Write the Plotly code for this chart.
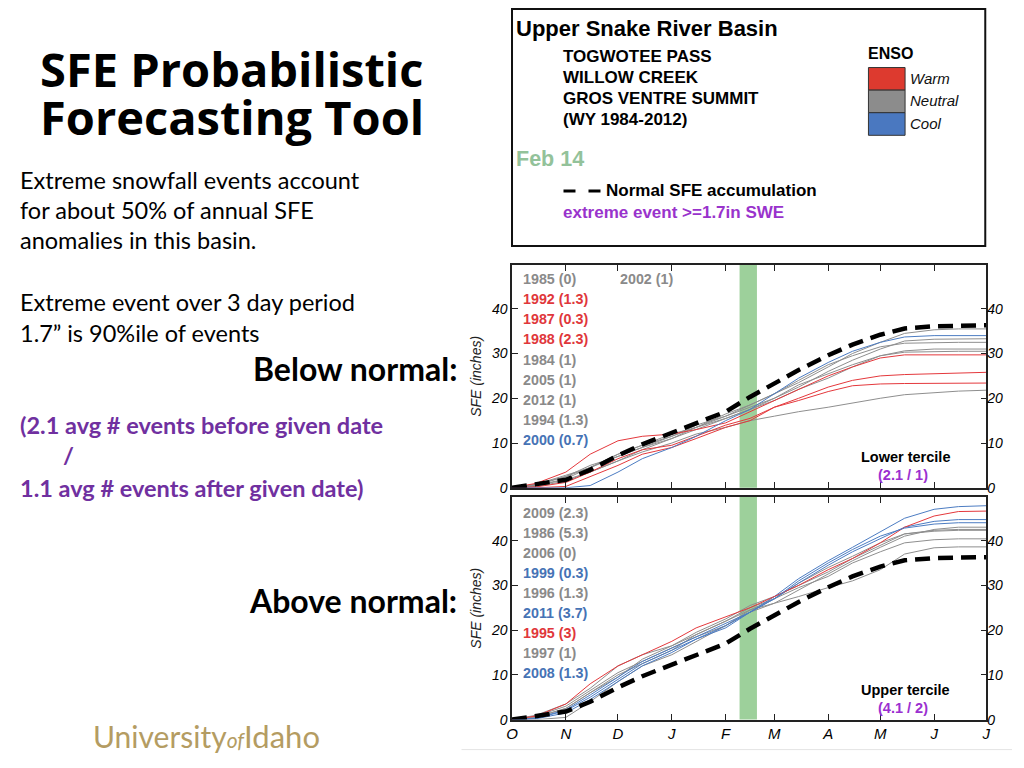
import plotly.graph_objects as go

# The page body has an 8px margin on every side; the figure fits inside it exactly.
# The photographed page comes out about 1% shorter vertically, so y positions are
# stretched by SY to land where the reference has them.
OFF = 8
W, H = 1024 - 2 * OFF, 768 - 2 * OFF
SY = 0.99


def px(x):
    return (x - OFF) / W


def py(y):
    return 1 - (y / SY - OFF) / H


# ---------------- data ----------------
SAMPLE_DATES = ["2000-10-01", "2000-10-15", "2000-11-01", "2000-11-15", "2000-12-01",
                "2000-12-15", "2001-01-01", "2001-01-15", "2001-02-01", "2001-02-15",
                "2001-03-01", "2001-03-15", "2001-04-01", "2001-04-15", "2001-05-01",
                "2001-05-15", "2001-06-01", "2001-06-15", "2001-07-01"]
MONTH_STARTS = ["2000-10-01", "2000-11-01", "2000-12-01", "2001-01-01", "2001-02-01",
                "2001-03-01", "2001-04-01", "2001-05-01", "2001-06-01", "2001-07-01"]
MONTH_LABELS = ["O", "N", "D", "J", "F", "M", "A", "M", "J", "J"]
Y_TICKS = [0, 10, 20, 30, 40]
Y_MAX = 49.8
WINDOW_START = "2001-02-09"
WINDOW_END = "2001-02-19"

NORMAL_SFE = [0, 0.7, 1.8, 4.0, 7.2, 9.7, 12.2, 14.5, 17.0, 20.3, 23.3, 26.3, 29.6,
              32.0, 34.2, 35.6, 36.1, 36.3, 36.3]

# Lower tercile years
SFE_1985 = [0, 0.5, 2.0, 4.5, 7.5, 9.5, 11.5, 13.5, 16.0, 18.5, 21.0, 23.5, 27.0, 30.0, 32.5, 34.5, 35.3, 35.5, 35.5]
SFE_1992 = [0, 1.0, 3.5, 7.5, 10.5, 11.5, 12.0, 13.0, 14.5, 17.0, 19.5, 22.0, 25.0, 27.0, 29.0, 29.7, 29.7, 29.7, 29.7]
SFE_1987 = [0, 0.2, 1.2, 3.5, 6.5, 8.5, 9.5, 11.5, 14.0, 15.5, 18.0, 20.0, 22.5, 24.0, 25.0, 25.3, 25.5, 25.6, 25.8]
SFE_1988 = [0, 0.0, 0.3, 2.5, 5.0, 7.5, 9.0, 11.0, 13.5, 15.0, 18.0, 19.5, 21.5, 22.8, 23.2, 23.3, 23.3, 23.3, 23.4]
SFE_1984 = [0, 0.6, 2.5, 4.5, 7.5, 9.5, 12.0, 13.5, 16.5, 18.5, 21.0, 24.0, 27.5, 29.5, 31.5, 32.3, 32.5, 32.5, 32.5]
SFE_2005 = [0, 0.8, 2.8, 4.5, 7.0, 9.0, 11.5, 14.0, 16.0, 18.0, 20.0, 23.0, 25.5, 27.5, 29.5, 30.6, 31.0, 31.0, 31.0]
SFE_2012 = [0, 0.5, 1.8, 3.5, 6.0, 8.5, 11.0, 13.5, 15.5, 17.5, 19.5, 22.0, 24.5, 27.0, 29.5, 30.3, 30.5, 30.5, 30.5]
SFE_1994 = [0, 0.3, 1.5, 3.5, 6.0, 8.0, 10.0, 12.0, 13.5, 15.0, 16.0, 17.0, 18.0, 19.0, 20.0, 20.8, 21.3, 21.6, 21.8]
SFE_2000 = [0, 0.0, 0.0, 0.5, 3.5, 6.5, 9.0, 11.5, 15.0, 17.5, 21.0, 24.5, 28.0, 30.5, 32.5, 33.7, 34.0, 34.0, 34.0]
SFE_2002 = [0, 0.8, 2.5, 5.0, 7.0, 9.0, 11.0, 13.0, 15.5, 17.5, 20.0, 22.5, 26.0, 28.5, 31.0, 32.8, 33.2, 33.3, 33.3]

LOWER_YEARS = ["1985", "1992", "1987", "1988", "1984", "2005", "2012", "1994", "2000", "2002"]
LOWER_EVENTS = ["0", "1.3", "0.3", "2.3", "1", "1", "1", "1.3", "0.7", "1"]
LOWER_ENSO = ["Neutral", "Warm", "Warm", "Warm", "Neutral", "Neutral", "Neutral", "Neutral", "Cool", "Neutral"]
LOWER_SERIES = [SFE_1985, SFE_1992, SFE_1987, SFE_1988, SFE_1984, SFE_2005, SFE_2012,
                SFE_1994, SFE_2000, SFE_2002]
LOWER_RATIO = "(2.1 / 1)"

# Upper tercile years
SFE_2009 = [0, 0.8, 3.0, 6.5, 10.5, 13.0, 16.0, 18.5, 21.0, 24.0, 26.0, 29.0, 32.5, 35.5, 38.5, 41.0, 42.5, 43.0, 43.0]
SFE_1986 = [0, 1.0, 3.5, 7.0, 12.0, 14.5, 16.5, 19.5, 22.5, 25.5, 27.5, 30.0, 33.0, 36.0, 39.0, 41.5, 42.3, 42.5, 42.5]
SFE_2006 = [0, 0.5, 2.5, 6.0, 10.0, 12.5, 15.5, 19.0, 22.0, 25.0, 27.0, 29.5, 32.0, 35.0, 37.5, 39.5, 40.2, 40.4, 40.4]
SFE_1999 = [0, 0.3, 2.0, 5.0, 9.0, 12.5, 15.5, 18.0, 21.0, 24.0, 27.0, 30.5, 34.5, 37.5, 40.5, 43.0, 44.3, 44.7, 44.7]
SFE_1996 = [0, 0.6, 2.5, 6.0, 9.5, 13.5, 16.5, 19.0, 22.0, 24.5, 26.0, 27.5, 29.5, 31.0, 33.5, 37.0, 38.4, 38.6, 38.6]
SFE_2011 = [0, 0.2, 1.5, 4.5, 8.5, 12.0, 15.0, 18.0, 20.5, 24.0, 27.5, 31.5, 35.5, 38.5, 42.0, 45.0, 47.0, 47.6, 47.8]
SFE_1995 = [0, 0.8, 3.5, 8.0, 12.0, 14.5, 17.5, 20.5, 23.0, 25.0, 27.5, 30.0, 33.5, 36.0, 39.5, 43.0, 45.5, 46.5, 46.6]
SFE_1997 = [0, 0.0, 0.5, 4.0, 8.5, 12.0, 14.5, 17.5, 21.0, 24.5, 27.0, 30.5, 34.0, 36.5, 39.5, 41.5, 42.1, 42.3, 42.3]
SFE_2008 = [0, 0.3, 2.2, 5.5, 9.5, 13.0, 16.0, 18.5, 21.5, 24.0, 27.0, 31.0, 35.0, 38.0, 41.0, 42.8, 43.7, 44.0, 44.0]

UPPER_YEARS = ["2009", "1986", "2006", "1999", "1996", "2011", "1995", "1997", "2008"]
UPPER_EVENTS = ["2.3", "5.3", "0", "0.3", "1.3", "3.7", "3", "1", "1.3"]
UPPER_ENSO = ["Neutral", "Neutral", "Neutral", "Cool", "Neutral", "Cool", "Warm", "Neutral", "Cool"]
UPPER_SERIES = [SFE_2009, SFE_1986, SFE_2006, SFE_1999, SFE_1996, SFE_2011, SFE_1995,
                SFE_1997, SFE_2008]
UPPER_RATIO = "(4.1 / 2)"

ENSO_PHASES = ["Warm", "Neutral", "Cool"]

# ---------------- style ----------------
LINE_COLORS = {"Warm": "#e4383c", "Neutral": "#8e8e8e", "Cool": "#4c7cc2"}
TEXT_COLORS = {"Warm": "#e0373b", "Neutral": "#8a8a8a", "Cool": "#4673b5"}
BOX_COLORS = {"Warm": "#dd3a2f", "Neutral": "#8c8c8c", "Cool": "#4a78c0"}
PURPLE = "#9b30d0"
SLIDE_PURPLE = "#7030a0"
GREEN = "#9dd09b"
ARIAL = "Liberation Sans, Arial, sans-serif"
BODY = "Lato, Open Sans, sans-serif"
TITLE = "Open Sans, Lato, sans-serif"

fig = go.Figure()

panels = [
    ("x2", "y2", LOWER_SERIES, LOWER_ENSO),
    ("x", "y", UPPER_SERIES, UPPER_ENSO),
]
for xa, ya, series, enso in panels:
    order = sorted(range(len(series)), key=lambda i: 0 if enso[i] == "Neutral" else 1)
    for i in order:
        fig.add_trace(go.Scatter(
            x=SAMPLE_DATES, y=series[i], xaxis=xa, yaxis=ya, mode="lines",
            line=dict(color=LINE_COLORS[enso[i]], width=1),
            hoverinfo="skip", showlegend=False))
    fig.add_trace(go.Scatter(
        x=SAMPLE_DATES, y=NORMAL_SFE, xaxis=xa, yaxis=ya, mode="lines",
        line=dict(color="black", width=4.5, dash="15px,8px"),
        hoverinfo="skip", showlegend=False))

# invisible traces so the right-hand axes get drawn
for xa, ya in [("x", "y3"), ("x2", "y4")]:
    fig.add_trace(go.Scatter(x=SAMPLE_DATES, y=NORMAL_SFE, xaxis=xa, yaxis=ya, mode="lines",
                             line=dict(width=0), opacity=0, hoverinfo="skip", showlegend=False))

XDOM = [px(511), px(990)]
TOP_DOM = [py(488), py(265)]
BOT_DOM = [py(720), py(497)]

tick_font = dict(family=ARIAL, size=14, color="black", style="italic")
common_x = dict(type="date", range=[MONTH_STARTS[0], MONTH_STARTS[-1]], tickvals=MONTH_STARTS,
                ticktext=MONTH_LABELS, ticks="inside", ticklen=6, tickcolor="#222",
                showline=True, linecolor="#222", linewidth=1.5, mirror="ticks",
                showgrid=False, zeroline=False,
                tickfont=dict(family=ARIAL, size=15, color="black", style="italic"),
                domain=XDOM)
common_y = dict(range=[0, Y_MAX], tickvals=Y_TICKS, ticks="inside", ticklen=6, tickcolor="#222",
                showline=True, linecolor="#222", linewidth=1.5, mirror="ticks",
                showgrid=False, zeroline=False, tickfont=tick_font,
                title=dict(text="SFE (inches)", font=dict(family=ARIAL, size=14, color="#222", style="italic"),
                           standoff=6))
right_y = dict(range=[0, Y_MAX], tickvals=Y_TICKS, ticks="", showline=False, showgrid=False,
               zeroline=False, side="right", tickfont=tick_font)

fig.update_layout(
    width=W, height=H, margin=dict(l=0, r=0, t=0, b=0),
    paper_bgcolor="white", plot_bgcolor="white", showlegend=False,
    xaxis=dict(common_x, anchor="y"),
    xaxis2=dict(common_x, anchor="y2", showticklabels=False, matches="x"),
    yaxis=dict(common_y, domain=BOT_DOM, anchor="x"),
    yaxis2=dict(common_y, domain=TOP_DOM, anchor="x2"),
    yaxis3=dict(right_y, overlaying="y", anchor="x"),
    yaxis4=dict(right_y, overlaying="y2", anchor="x2"),
)

shapes = []
# highlighted date window
for xa, ya in [("x", "y"), ("x2", "y2")]:
    shapes.append(dict(type="rect", xref=xa, yref=ya + " domain", x0=WINDOW_START, x1=WINDOW_END,
                       y0=0, y1=1, fillcolor=GREEN, line=dict(width=0), layer="below"))
# legend box
shapes.append(dict(type="rect", xref="paper", yref="paper", x0=px(511), x1=px(989),
                   y0=py(246), y1=py(9), line=dict(color="#111", width=2), fillcolor="rgba(0,0,0,0)"))
# ENSO swatches
for k, phase in enumerate(ENSO_PHASES):
    y0 = 67.5 + k * 22.6
    shapes.append(dict(type="rect", xref="paper", yref="paper", x0=px(871), x1=px(908),
                       y0=py(y0 + 22.6), y1=py(y0), fillcolor=BOX_COLORS[phase],
                       line=dict(color="#333", width=1)))
# normal-line legend sample
shapes.append(dict(type="line", xref="paper", yref="paper", x0=px(563), x1=px(601),
                   y0=py(191), y1=py(191), line=dict(color="black", width=3, dash="12px,13px")))
# faint slide rule
shapes.append(dict(type="line", xref="paper", yref="paper", x0=px(460), x1=1,
                   y0=py(750), y1=py(750), line=dict(color="#e4e4e4", width=1)))

ann = []


def text(x, y, s, size, color="black", family=ARIAL, anchor="left", bold=False, italic=False):
    if bold:
        s = "<b>" + s + "</b>"
    if italic:
        s = "<i>" + s + "</i>"
    ann.append(dict(x=px(x), y=py(y), xref="paper", yref="paper", text=s, showarrow=False,
                    xanchor=anchor, yanchor="middle", font=dict(family=family, size=size, color=color)))


# year labels in panels
for i, (yr, ev, en) in enumerate(zip(LOWER_YEARS, LOWER_EVENTS, LOWER_ENSO)):
    if i < 9:
        text(520, 279 + 20.2 * i, f"{yr} ({ev})", 14.3, TEXT_COLORS[en], bold=True)
    else:
        text(618, 279, f"{yr} ({ev})", 14.3, TEXT_COLORS[en], bold=True)
for i, (yr, ev, en) in enumerate(zip(UPPER_YEARS, UPPER_EVENTS, UPPER_ENSO)):
    text(520, 513 + 20.1 * i, f"{yr} ({ev})", 14.3, TEXT_COLORS[en], bold=True)

text(908, 457, "Lower tercile", 14.5, "black", anchor="center", bold=True)
text(906, 475, LOWER_RATIO, 14.5, PURPLE, anchor="center", bold=True)
text(908, 690, "Upper tercile", 14.5, "black", anchor="center", bold=True)
text(906, 708, UPPER_RATIO, 14.5, PURPLE, anchor="center", bold=True)

# legend box texts
text(513, 28, "Upper Snake River Basin", 22, bold=True)
for i, s in enumerate(["TOGWOTEE PASS", "WILLOW CREEK", "GROS VENTRE SUMMIT", "(WY 1984-2012)"]):
    text(560, 56 + 21 * i, s, 17, bold=True)
text(869, 53, "ENSO", 16, bold=True)
for k, phase in enumerate(ENSO_PHASES):
    text(911, 78 + 22.6 * k, phase, 15, "#111", italic=True)
text(513, 159, "Feb 14", 21.5, "#93c29a", bold=True)
text(604, 191, "Normal SFE accumulation", 17, bold=True)
text(560, 213, "extreme event >=1.7in SWE", 17, "#9933cc", bold=True)

# slide title: two lines, 47px glyphs with 48px line pitch (line pitch = 1.3 x base size)
ann.append(dict(x=px(32), y=py(93), xref="paper", yref="paper", showarrow=False,
                xanchor="left", yanchor="middle", align="left",
                text="<span style='font-size:47px'><b>SFE Probabilistic</b></span><br>"
                     "<span style='font-size:47px'><b>Forecasting Tool</b></span>",
                font=dict(family=TITLE, size=37, color="black")))

body = ["Extreme snowfall events account", "for about 50% of annual SFE",
        "anomalies in this basin."]
for i, s in enumerate(body):
    text(12, 180 + 30 * i, s, 23.5, "black", family=BODY)
text(12, 302, "Extreme event over 3 day period", 23.5, "black", family=BODY)
text(12, 333, "1.7\u201d is 90%ile of events", 23.5, "black", family=BODY)
text(457, 369, "Below normal:", 32, "black", family=BODY, anchor="right", bold=True)
text(457, 601, "Above normal:", 32, "black", family=BODY, anchor="right", bold=True)
text(12, 425, "(2.1 avg # events before given date", 23.5, SLIDE_PURPLE, family=BODY, bold=True)
text(55, 455, "/", 23.5, SLIDE_PURPLE, family=BODY, bold=True)
text(12, 488, "1.1 avg # events after given date)", 23.5, SLIDE_PURPLE, family=BODY, bold=True)

ann.append(dict(x=px(86), y=py(736), xref="paper", yref="paper", showarrow=False,
                xanchor="left", yanchor="middle",
                text="University<span style='font-size:21px'><i>of</i></span>"
                     "<span style='font-size:31px'>Idaho</span>",
                font=dict(family=BODY, size=30, color="#b49c62")))

fig.update_layout(shapes=shapes, annotations=ann)
fig.write_html("out.html")
